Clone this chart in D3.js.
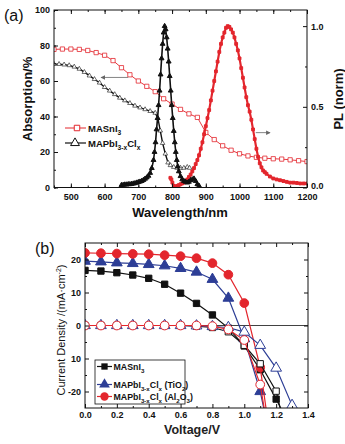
<!DOCTYPE html>
<html>
<head>
<meta charset="utf-8">
<script src="https://cdn.jsdelivr.net/npm/d3@7"></script>
<style>
body { margin: 0; background: #fff; }
svg { font-family: "Liberation Sans", Arial, sans-serif; }
.tick text { font-weight: bold; font-size: 9px; fill: #111; }
</style>
</head>
<body>
<script>
// ---------- panel (a): absorption + PL ----------
var wlTicks = [500, 600, 700, 800, 900, 1000, 1100, 1200];
var absTicks = [0, 20, 40, 60, 80, 100];
var plTicks = [0, 0.5, 1.0];

// MASnI3 absorption (open squares)
var absSnNm = [450,475,500,525,550,575,600,625,650,675,700,725,750,775,800,825,850,875,900,925,950,975,1000,1025,1050,1075,1100,1125,1150,1175,1200];
var absSn   = [77.8,78,78,77.8,77.2,76,74.5,71.5,67.5,63.5,60,57,54,50,47,44,41.5,39.5,31,27,23.5,21,19,17.8,17,16.5,16.2,16,15.6,15.1,14.6];

// MAPbI3-xClx absorption (open triangles)
var absPbNm = [450,465,480,495,510,525,540,555,570,585,600,615,630,645,660,675,690,705,720,735,750,758,765,772,780,788,795,805,815,825,835,845,852];
var absPb   = [69.5,69.5,69.2,68.8,68,66.8,65,63,61,59,56.5,54.5,52.5,50.5,49,47.5,46,45,44,43,42,39,32,25,19,14,12.5,11.5,11,11,11,11.5,11];

// MAPbI3-xClx PL (filled triangles)
var plPbNm = [650,655,660,665,670,675,680,685,690,695,700,705,710,715,720,725,730,735,740,745,748,751,754,757,760,763,766,769,772,775,778,781,784,787,790,793,796,799,802,805,808,811,814,817,820,825,830,835,840,845,850,855,860,865,870,875,880];
var plPb   = [0.015,0.016,0.018,0.018,0.02,0.02,0.022,0.024,0.026,0.03,0.033,0.036,0.04,0.046,0.054,0.062,0.072,0.09,0.12,0.17,0.22,0.28,0.36,0.43,0.51,0.6,0.7,0.8,0.89,0.96,1.0,0.98,0.93,0.86,0.78,0.69,0.6,0.51,0.43,0.35,0.28,0.22,0.17,0.13,0.1,0.07,0.05,0.04,0.035,0.03,0.035,0.045,0.05,0.055,0.04,0.02,0.01];

// MASnI3 PL (filled squares)
var plSnNm = [795,798,801,805,810,815,820,825,830,835,840,845,850,855,860,865,870,875,880,885,890,895,900,905,910,915,920,925,930,935,940,945,950,955,960,965,970,975,980,985,990,995,1000,1005,1010,1015,1020,1025,1030,1035,1040,1045,1050,1055,1060,1065,1070,1075,1080,1090,1100,1110,1120,1130,1140,1150,1160,1170,1180,1190,1200];
var plSn   = [0.06,0.05,0.03,0.01,0.005,0.01,0.015,0.02,0.025,0.03,0.04,0.05,0.065,0.08,0.1,0.12,0.145,0.17,0.2,0.24,0.28,0.33,0.38,0.43,0.48,0.54,0.6,0.66,0.72,0.78,0.84,0.89,0.93,0.96,0.99,1.0,0.995,0.98,0.96,0.93,0.89,0.85,0.8,0.74,0.68,0.62,0.56,0.51,0.47,0.42,0.36,0.3,0.24,0.19,0.15,0.125,0.105,0.095,0.085,0.068,0.056,0.05,0.045,0.04,0.035,0.03,0.03,0.028,0.025,0.025,0.025];

// ---------- panel (b): J-V curves ----------
var vTicks = [0, 0.2, 0.4, 0.6, 0.8, 1.0, 1.2, 1.4];
var jTicks = [-20, -10, 0, 10, 20];
var vStep = [0,0.1,0.2,0.3,0.4,0.5,0.6,0.7,0.8,0.9,1.0,1.1,1.2,1.3];

var jSnLight = [16.7,16.5,16,15.3,14.3,12.5,9.8,6.7,3.2,-0.8,-6.2,-13.4,-22.3];
var jSnDark  = [0,0,0,0,0,0,0,-0.2,-0.6,-1.9,-6,-11.6,-19.9];
var jTiLight = [19.5,19.3,19,18.8,18.5,18.1,17.3,16.2,14,8.3,-4,-20];
var jTiDark  = [0,0,0,0,0,0,0,-0.1,-0.3,-0.6,-2,-6,-12.9,-24.2];
var jAlLight = [22,21.9,21.8,21.7,21.6,21.3,21,20.4,18.9,15.4,6.8,-12.7];
var jAlDark  = [0,0,0,0,0,0,0,0,-0.2,-1.2,-4.4,-17.9];
// where each curve leaves the bottom of the frame
var tailV = { snL: 1.26, snD: 1.24, tiL: 1.135, tiD: 1.32, alL: 1.145, alD: 1.135 };
var tailJ = -28;

var RED = "#e3262d", BLUE = "#2d3e96", BLACK = "#111";

var svg = d3.select("body").append("svg").attr("width", 345).attr("height", 444);

function zip(xs, ys) { return ys.map(function(y, i) { return [xs[i], y]; }); }
function range(a, b, s) { return d3.range(a, b + s / 2, s); }

function frame(g, x, y) {
  var r = x.range(), t = y.range();
  g.append("rect").attr("x", r[0]).attr("y", t[1])
    .attr("width", r[1] - r[0]).attr("height", t[0] - t[1])
    .attr("fill", "none").attr("stroke", BLACK).attr("stroke-width", 1);
}

function axes(g, x, y, o) {
  var r = x.range(), t = y.range();
  function put(gen, tr) {
    var a = g.append("g").attr("transform", tr).call(gen);
    a.select(".domain").remove();
    a.selectAll("line").attr("stroke", BLACK);
    return a;
  }
  put(d3.axisBottom(x).tickValues(o.xMajor).tickSize(-4).tickPadding(o.xPad || 4).tickFormat(o.xFmt), "translate(0," + t[0] + ")");
  put(d3.axisBottom(x).tickValues(o.xMinor).tickSize(-2).tickFormat(""), "translate(0," + t[0] + ")");
  put(d3.axisTop(x).tickValues(o.xMajor).tickSize(-4).tickFormat(""), "translate(0," + t[1] + ")");
  put(d3.axisTop(x).tickValues(o.xMinor).tickSize(-2).tickFormat(""), "translate(0," + t[1] + ")");
  put(d3.axisLeft(y).tickValues(o.yMajor).tickSize(-4).tickPadding(4).tickFormat(o.yFmt), "translate(" + r[0] + ",0)");
  put(d3.axisLeft(y).tickValues(o.yMinor).tickSize(-2).tickFormat(""), "translate(" + r[0] + ",0)");
  var y2 = o.y2 || y;
  var ra = put(d3.axisRight(y2).tickValues(o.y2Major || o.yMajor).tickSize(-4).tickPadding(4)
      .tickFormat(o.y2Fmt || ""), "translate(" + r[1] + ",0)");
  // lift the bottom label of the right axis off the x labels
  ra.selectAll(".tick text").filter(function(d) { return d === 0; }).attr("dy", "0.1em");
  put(d3.axisRight(y2).tickValues(o.y2Minor || o.yMinor).tickSize(-2).tickFormat(""), "translate(" + r[1] + ",0)");
}

function series(g, pts, x, y, o) {
  g.append("path").datum(pts)
    .attr("d", d3.line().x(function(d) { return x(d[0]); }).y(function(d) { return y(d[1]); }))
    .attr("fill", "none").attr("stroke", o.color).attr("stroke-width", o.lw);
  var inside = pts.filter(function(d) { return d[1] >= y.domain()[0]; });
  g.selectAll(null).data(o.markers === false ? [] : inside).enter().append("path")
    .attr("transform", function(d) { return "translate(" + x(d[0]) + "," + y(d[1]) + ")"; })
    .attr("d", d3.symbol().type(o.sym).size(o.size))
    .attr("fill", o.open ? "#fff" : o.color)
    .attr("stroke", o.color).attr("stroke-width", o.sw || 1);
}

function subText(g, x, y, parts, size, anchor) {
  var t = g.append("text").attr("x", x).attr("y", y).attr("font-size", size)
    .attr("font-weight", "bold").attr("fill", BLACK).attr("text-anchor", anchor || "start");
  parts.forEach(function(p) {
    var s = t.append("tspan").text(p[0]);
    if (p[1] === "sub") s.attr("font-size", size * 0.7).attr("dy", 3);
    if (p[1] === "up") s.attr("dy", -3);
  });
  return t;
}

// ================= panel (a) =================
var xa = d3.scaleLinear().domain([450, 1200]).range([54, 307]);
var yAbs = d3.scaleLinear().domain([0, 100]).range([187.5, 10]);
var yPL = d3.scaleLinear().domain([0, 1.1]).range([187.5, 10]);

var ga = svg.append("g");
ga.append("clipPath").attr("id", "clipA").append("rect")
  .attr("x", 54).attr("y", 10).attr("width", 253).attr("height", 177.5);
var pa = ga.append("g").attr("clip-path", "url(#clipA)");

series(pa, zip(absSnNm, absSn), xa, yAbs, { color: RED, lw: 0.9, sym: d3.symbolSquare, size: 18, open: true, sw: 0.8 });
series(pa, zip(absPbNm, absPb), xa, yAbs, { color: BLACK, lw: 1.4, sym: d3.symbolTriangle, size: 9, open: true, sw: 0.6 });
series(pa, zip(plSnNm, plSn), xa, yPL, { color: RED, lw: 2.2, sym: d3.symbolSquare, size: 8 });
series(pa, zip(plPbNm, plPb), xa, yPL, { color: BLACK, lw: 1.6, sym: d3.symbolTriangle, size: 10 });

// arrows pointing at the matching axes
var defs = svg.append("defs");
defs.append("marker").attr("id", "ah").attr("viewBox", "0 0 6 6").attr("refX", 5).attr("refY", 3)
  .attr("markerWidth", 5).attr("markerHeight", 5).attr("orient", "auto")
  .append("path").attr("d", "M0,0L6,3L0,6Z").attr("fill", "#666");
ga.append("line").attr("x1", xa(670)).attr("x2", xa(590)).attr("y1", yAbs(62)).attr("y2", yAbs(62))
  .attr("stroke", "#777").attr("stroke-width", 0.9).attr("marker-end", "url(#ah)");
ga.append("line").attr("x1", xa(1048)).attr("x2", xa(1090)).attr("y1", yPL(0.34)).attr("y2", yPL(0.34))
  .attr("stroke", "#777").attr("stroke-width", 0.9).attr("marker-end", "url(#ah)");

frame(ga, xa, yAbs);
axes(ga, xa, yAbs, {
  xMajor: wlTicks, xMinor: range(450, 1200, 50), xFmt: d3.format("d"), xPad: 6,
  yMajor: absTicks, yMinor: range(0, 100, 10), yFmt: d3.format("d"),
  y2: yPL, y2Major: plTicks, y2Minor: [0.25, 0.75], y2Fmt: d3.format(".1f")
});

// legend (a)
var la = ga.append("g");
la.append("line").attr("x1", 65).attr("x2", 86).attr("y1", 128).attr("y2", 128).attr("stroke", RED).attr("stroke-width", 1);
la.append("path").attr("transform", "translate(77,128)").attr("d", d3.symbol().type(d3.symbolSquare).size(30))
  .attr("fill", "#fff").attr("stroke", RED).attr("stroke-width", 1);
subText(la, 88, 131.5, [["MASnI"], ["3", "sub"]], 9.5);
la.append("line").attr("x1", 65).attr("x2", 86).attr("y1", 143).attr("y2", 143).attr("stroke", BLACK).attr("stroke-width", 1.2);
la.append("path").attr("transform", "translate(75,143)").attr("d", d3.symbol().type(d3.symbolTriangle).size(34))
  .attr("fill", "#fff").attr("stroke", BLACK).attr("stroke-width", 1);
subText(la, 88, 146.5, [["MAPbI"], ["3-x", "sub"], ["Cl", "up"], ["x", "sub"]], 9.5);

ga.append("text").attr("x", 4).attr("y", 21).attr("font-size", 16).attr("fill", BLACK).text("(a)");
ga.append("text").attr("transform", "translate(32,99)rotate(-90)").attr("text-anchor", "middle")
  .attr("font-size", 13).attr("font-weight", "bold").attr("fill", BLACK).text("Absorption/%");
ga.append("text").attr("transform", "translate(343,99)rotate(-90)").attr("text-anchor", "middle")
  .attr("font-size", 13).attr("font-weight", "bold").attr("fill", BLACK).text("PL (norm)");
ga.append("text").attr("x", 180).attr("y", 217).attr("text-anchor", "middle")
  .attr("font-size", 13).attr("font-weight", "bold").attr("fill", BLACK).text("Wavelength/nm");

// ================= panel (b) =================
var xb = d3.scaleLinear().domain([0, 1.4]).range([85, 308]);
var yb = d3.scaleLinear().domain([-25, 25]).range([408, 243]);

var gb = svg.append("g");
gb.append("clipPath").attr("id", "clipB").append("rect")
  .attr("x", 85).attr("y", 243).attr("width", 223).attr("height", 165);
var pb = gb.append("g").attr("clip-path", "url(#clipB)");

pb.append("line").attr("x1", xb(0)).attr("x2", xb(1.4)).attr("y1", yb(0)).attr("y2", yb(0))
  .attr("stroke", BLACK).attr("stroke-width", 0.8);

function withTail(v, j, tv) { return zip(v, j).concat([[tv, tailJ]]); }

series(pb, withTail(vStep, jSnLight, tailV.snL), xb, yb, { color: BLACK, lw: 1.2, sym: d3.symbolSquare, size: 40 });
series(pb, withTail(vStep, jTiLight, tailV.tiL), xb, yb, { color: BLUE, lw: 1.2, sym: d3.symbolTriangle, size: 50 });
series(pb, withTail(vStep, jAlLight, tailV.alL), xb, yb, { color: RED, lw: 1.2, sym: d3.symbolCircle, size: 60 });
series(pb, withTail(vStep, jSnDark, tailV.snD), xb, yb, { color: BLACK, lw: 1.2, sym: d3.symbolSquare, size: 40, open: true });
series(pb, withTail(vStep, jTiDark, tailV.tiD), xb, yb, { color: BLUE, lw: 1.2, sym: d3.symbolTriangle, size: 50, open: true });
series(pb, withTail(vStep, jAlDark, tailV.alD), xb, yb, { color: RED, lw: 1.2, sym: d3.symbolCircle, size: 60, open: true });

frame(gb, xb, yb);
axes(gb, xb, yb, {
  xMajor: vTicks, xMinor: range(0.1, 1.3, 0.2), xFmt: d3.format(".1f"),
  yMajor: jTicks, yMinor: [-15, -5, 5, 15],
  yFmt: function(d) { return d === -10 ? "10" : d; }
});

// legend (b)
var lb = gb.append("g");
lb.append("rect").attr("x", 95).attr("y", 360).attr("width", 90).attr("height", 44)
  .attr("fill", "#fff").attr("stroke", BLACK).attr("stroke-width", 0.8);
var legB = [
  { y: 366.5, c: BLACK, s: d3.symbolSquare, z: 40, parts: [["MASnI"], ["3", "sub"]] },
  { y: 384.5, c: BLUE, s: d3.symbolTriangle, z: 50, parts: [["MAPbI"], ["3-x", "sub"], ["Cl", "up"], ["x", "sub"], [" (TiO", "up"], ["2", "sub"], [")", "up"]] },
  { y: 396.5, c: RED, s: d3.symbolCircle, z: 55, parts: [["MAPbI"], ["3-x", "sub"], ["Cl", "up"], ["x", "sub"], [" (Al", "up"], ["2", "sub"], ["O", "up"], ["3", "sub"], [")", "up"]] }
];
legB.forEach(function(e) {
  lb.append("line").attr("x1", 97).attr("x2", 112).attr("y1", e.y).attr("y2", e.y).attr("stroke", e.c).attr("stroke-width", 1.2);
  lb.append("path").attr("transform", "translate(104.5," + e.y + ")").attr("d", d3.symbol().type(e.s).size(e.z)).attr("fill", e.c);
  subText(lb, 113.5, e.y + 3, e.parts, 8.8);
});

gb.append("text").attr("x", 35).attr("y", 254).attr("font-size", 16).attr("fill", BLACK).text("(b)");
var yt = gb.append("text").attr("transform", "translate(65,330)rotate(-90)").attr("text-anchor", "middle")
  .attr("font-size", 11).attr("fill", BLACK);
yt.append("tspan").text("Current Density /(mA\u00b7cm");
yt.append("tspan").attr("font-size", 7).attr("dy", -4).text("-2");
yt.append("tspan").attr("dy", 4).text(")");
gb.append("text").attr("x", 192).attr("y", 434).attr("text-anchor", "middle")
  .attr("font-size", 12.5).attr("font-weight", "bold").attr("fill", "#222").text("Voltage/V");
</script>
</body>
</html>
